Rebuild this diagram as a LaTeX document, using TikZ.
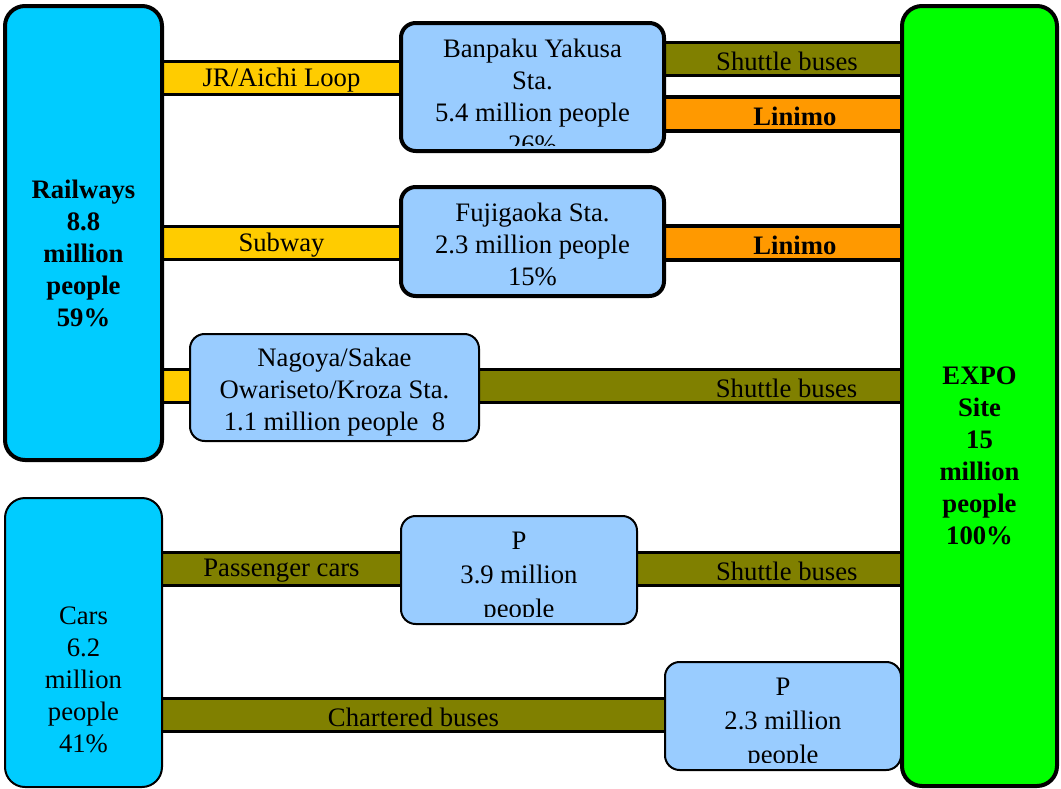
\documentclass[tikz,border=0pt]{standalone}
\usepackage{fontspec}
\setmainfont{Liberation Serif}
\usetikzlibrary{backgrounds}
\definecolor{railblue}{HTML}{00CCFF}
\definecolor{stnblue}{HTML}{99CCFF}
\definecolor{expogreen}{HTML}{00FF00}
\definecolor{baryellow}{HTML}{FFCC00}
\definecolor{barolive}{HTML}{808000}
\definecolor{barorange}{HTML}{FF9900}
\begin{document}
\begin{tikzpicture}[x=0.75pt, y=-0.75pt,
  big node/.style={draw, rounded corners=15pt, line width=3pt},
  stn node/.style={draw, fill=stnblue, rounded corners=11pt, line width=3pt},
  thin line/.style={line width=1.5pt},
  lbl/.style={align=center, inner sep=0pt, font=\fontsize{20}{24}\selectfont},
  bold lbl/.style={lbl, font=\fontsize{20}{24}\selectfont\bfseries},
  park lbl/.style={lbl, font=\fontsize{20}{25.5}\selectfont},
  bar lbl/.style={lbl, yshift=-1.5pt},
  bar/.style={line width=1.8pt, double=#1, double distance=23pt},
  fat bar/.style={line width=3pt, double=#1, double distance=22pt}]
\useasboundingbox (0,0) rectangle (1061,789);

% origin and destination
\node[big node, fill=railblue, minimum width=117.75pt, minimum height=340.5pt] (rail) at (83.5,233) {};
\node[bold lbl, below=132pt] (railtxt) at (rail.north) {Railways\\8.8\\million\\people\\59\%};
\node[big node, thin line, fill=railblue, minimum width=117.75pt, minimum height=216.75pt] (cars) at (83.5,642.5) {};
\node[lbl, below=82.5pt] (carstxt) at (cars.north) {Cars\\6.2\\million\\people\\41\%};
\node[big node, fill=expogreen, minimum width=116.25pt, minimum height=585pt] (expo) at (979.5,396) {};
\node[bold lbl, below=272pt] (expotxt) at (expo.north) {EXPO\\Site\\15\\million\\people\\100\%};

% stations and parking
\node[stn node, minimum width=197.25pt, minimum height=96pt] (banpaku) at (532.5,87) {};
\begin{scope}
\clip ([xshift=3pt,yshift=6pt]banpaku.south west) rectangle ([xshift=-3pt,yshift=-3pt]banpaku.north east);
\node[lbl, below=13.5pt] (banpakutxt) at (banpaku.north) {Banpaku Yakusa\\Sta.\\5.4 million people\\26\%};
\end{scope}
\node[stn node, minimum width=197.25pt, minimum height=81.75pt] (fuji) at (532.5,241.5) {};
\node[lbl, below=13.5pt] (fujitxt) at (fuji.north) {Fujigaoka Sta.\\2.3 million people\\15\%};
\node[stn node, thin line, minimum width=216.75pt, minimum height=80.25pt] (nagoya) at (334.5,387.5) {};
\node[lbl, below=11.25pt] (nagoyatxt) at (nagoya.north) {Nagoya/Sakae\\Owariseto/Kroza Sta.\\1.1 million people\ \ 8};
\node[stn node, thin line, minimum width=177pt, minimum height=81pt] (park1) at (519,570) {};
\begin{scope}
\clip ([xshift=1.5pt,yshift=6.5pt]park1.south west) rectangle ([xshift=-1.5pt,yshift=-1.5pt]park1.north east);
\node[park lbl, below=12.5pt] (park1txt) at (park1.north) {P\\3.9 million\\people};
\end{scope}
\node[stn node, thin line, minimum width=177pt, minimum height=81pt] (park2) at (783,716) {};
\begin{scope}
\clip ([xshift=1.5pt,yshift=6.5pt]park2.south west) rectangle ([xshift=-1.5pt,yshift=-1.5pt]park2.north east);
\node[park lbl, below=12.5pt] (park2txt) at (park2.north) {P\\2.3 million\\people};
\end{scope}

\coordinate (jr) at (0,78);
\coordinate (sb1) at (0,59);
\coordinate (lm1) at (0,114);
\coordinate (sw) at (0,243);
\coordinate (ng) at (0,386);
\coordinate (pc) at (0,569);
\coordinate (cb) at (0,715);

% routes
\begin{scope}[on background layer]
\draw[bar=baryellow] (rail.east |- jr) -- node[bar lbl] {JR/Aichi Loop} (banpaku.west |- jr);
\draw[bar=barolive] (banpaku.east |- sb1) -- node[bar lbl, pos=0.517] {Shuttle buses} (expo.west |- sb1);
\draw[fat bar=barorange] (banpaku.east |- lm1) -- node[bar lbl, pos=0.551, font=\fontsize{20}{24}\selectfont\bfseries] {Linimo} (expo.west |- lm1);
\draw[bar=baryellow] (rail.east |- sw) -- node[bar lbl] {Subway} (fuji.west |- sw);
\draw[fat bar=barorange] (fuji.east |- sw) -- node[bar lbl, pos=0.551, font=\fontsize{20}{24}\selectfont\bfseries] {Linimo} (expo.west |- sw);
\draw[bar=baryellow] (rail.east |- ng) -- (nagoya.west |- ng);
\draw[bar=barolive] (nagoya.east |- ng) -- node[bar lbl, pos=0.73] {Shuttle buses} (expo.west |- ng);
\draw[bar=barolive] (cars.east |- pc) -- node[bar lbl] {Passenger cars} (park1.west |- pc);
\draw[bar=barolive] (park1.east |- pc) -- node[bar lbl, pos=0.568] {Shuttle buses} (expo.west |- pc);
\draw[bar=barolive] (cars.east |- cb) -- node[bar lbl] {Chartered buses} (park2.west |- cb);
\end{scope}
\end{tikzpicture}
\end{document}
